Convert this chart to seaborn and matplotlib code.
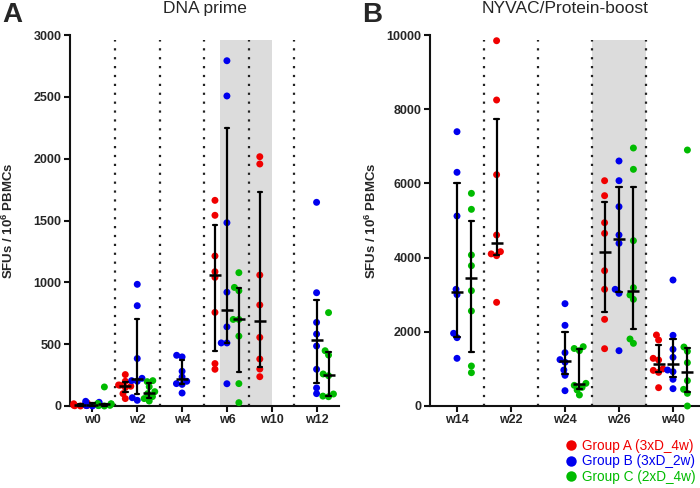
import numpy as np
import pandas as pd
import matplotlib
matplotlib.use("Agg")
import matplotlib.pyplot as plt
from matplotlib.lines import Line2D
import seaborn as sns
import warnings
warnings.filterwarnings("ignore")

# ---------------- data ----------------
groups = ["Group A (3xD_4w)", "Group B (3xD_2w)", "Group C (2xD_4w)"]
colors = ["#F00000", "#0000EE", "#00BB00"]

dna_weeks = ["w0", "w2", "w4", "w6", "w10", "w12"]
dna_a = {
    "w0": [0, 2, 4, 5, 6, 10, 18, 25],
    "w2": [254, 200, 170, 168, 160, 150, 100, 60],
    "w6": [1663, 1542, 1213, 1086, 1040, 757, 343, 297],
    "w10": [2016, 1957, 1059, 817, 555, 380, 299, 237],
}
dna_b = {
    "w0": [0, 3, 5, 8, 12, 20, 30, 38],
    "w2": [984, 811, 384, 224, 205, 200, 67, 46],
    "w4": [410, 397, 281, 235, 200, 181, 175, 105],
    "w6": [2792, 2507, 1482, 920, 640, 510, 510, 180],
    "w12": [1647, 916, 676, 582, 485, 297, 146, 100],
}
dna_c = {
    "w0": [0, 3, 5, 14, 16, 18, 20, 154],
    "w2": [205, 197, 156, 116, 100, 76, 60, 40],
    "w6": [1078, 959, 932, 700, 700, 565, 181, 27],
    "w12": [755, 447, 412, 259, 245, 97, 80, 75],
}

boost_weeks = ["w14", "w22", "w24", "w26", "w40"]
boost_a = {
    "w22": [9846, 8248, 6235, 4609, 4160, 4100, 4052, 2794],
    "w26": [6073, 5669, 4941, 4654, 3647, 3145, 2336, 1545],
    "w40": [1914, 1779, 1285, 1240, 1000, 960, 907, 494],
}
boost_b = {
    "w14": [7394, 6299, 5121, 3145, 3001, 1959, 1842, 1285],
    "w24": [2758, 2174, 1438, 1250, 1180, 970, 827, 413],
    "w26": [6604, 6073, 5373, 4609, 4385, 3145, 3037, 1491],
    "w40": [3396, 1905, 1528, 1312, 970, 925, 720, 467],
}
boost_c = {
    "w14": [5732, 5301, 4070, 3782, 3108, 2561, 1078, 898],
    "w24": [1599, 1550, 1491, 611, 557, 503, 431, 297],
    "w26": [6954, 6379, 4456, 3189, 2992, 2875, 1806, 1689],
    "w40": [6900, 1590, 1474, 1168, 683, 449, 341, 0],
}

dna_ticks = [0, 500, 1000, 1500, 2000, 2500, 3000]
boost_ticks = [0, 2000, 4000, 6000, 8000, 10000]


def to_long(per_group):
    rows = []
    for g, d in zip(groups, per_group):
        for wk, vals in d.items():
            for v in vals:
                rows.append({"week": wk, "group": g, "sfu": v})
    return pd.DataFrame(rows)


def iqr(v):
    return (np.percentile(v, 25, method="weibull"),
            np.percentile(v, 75, method="weibull"))


# ---------------- style ----------------
sns.set_style("ticks")
plt.rcParams["font.family"] = ["Liberation Sans", "DejaVu Sans"]
plt.rcParams["mathtext.fontset"] = "custom"
plt.rcParams["mathtext.bf"] = "Liberation Sans:bold"
plt.rcParams["mathtext.rm"] = "Liberation Sans"

fig = plt.figure(figsize=(7.0, 4.88), dpi=100)
axA = fig.add_axes([70 / 700, 82 / 488, 269 / 700, 371 / 488])
axB = fig.add_axes([430 / 700, 82 / 488, 270 / 700, 371 / 488])

LAYOUT_SIZE = 3.9   # spacing used to place the swarm (points may overlap a bit)
DOT_SIZE = 5.0      # drawn marker diameter (pt)
SLOT = 0.8 / 3      # dodge slot width per group


def draw(ax, df, weeks, ticks, shade, title, ylabel_x):
    n = len(weeks)
    ax.axvspan(shade[0], shade[1], ymin=0, ymax=0.987, color="#DCDCDC", lw=0, zorder=0)
    for i in range(n - 1):
        ax.axvline(i + 0.5, ymin=0, ymax=0.987, color="#222222",
                   ls=(0, (1.0, 3.0)), lw=1.6, zorder=1)
    sns.swarmplot(data=df, x="week", y="sfu", hue="group", order=weeks,
                  hue_order=groups, palette=colors, dodge=True, size=LAYOUT_SIZE,
                  ax=ax, legend=False, zorder=3)
    sns.pointplot(data=df, x="week", y="sfu", hue="group", order=weeks,
                  hue_order=groups, palette=["black"] * 3, estimator="median",
                  errorbar=iqr, dodge=0.5333, linestyle="none", markers="_",
                  markersize=8, markeredgewidth=1.8, capsize=0.1,
                  err_kws={"linewidth": 1.6, "zorder": 5}, legend=False,
                  zorder=6, ax=ax)
    for coll in ax.collections:
        coll.set_clip_on(False)
    for ln in ax.lines:
        ln.set_clip_on(False)
    ax.set_xlim(-0.5, n - 0.5)
    ax.set_ylim(0, ticks[-1])
    ax.set_yticks(ticks)
    ax.set_yticklabels([str(t) for t in ticks], fontweight="bold", fontsize=9)
    ax.set_xticks(range(n))
    ax.set_xticklabels(weeks, fontweight="bold", fontsize=9)
    ax.set_xlabel("")
    ax.set_ylabel("SFUs / 10$^{\\mathbf{6}}$ PBMCs", fontweight="bold", fontsize=9.5)
    ax.yaxis.set_label_coords(ylabel_x, 0.5)
    ax.set_title(title, fontsize=12.5, pad=16)
    for s in ["top", "right"]:
        ax.spines[s].set_visible(False)
    for s in ["left", "bottom"]:
        ax.spines[s].set_linewidth(1.5)
        ax.spines[s].set_color("#111111")
    ax.tick_params(axis="both", direction="out", length=4, width=1.5,
                   color="#111111", pad=2)
    ax.grid(False)


draw(axA, to_long([dna_a, dna_b, dna_c]), dna_weeks, dna_ticks,
     (2.85, 4.0), "DNA prime", -0.2)
draw(axB, to_long([boost_a, boost_b, boost_c]), boost_weeks, boost_ticks,
     (2.5, 3.5), "NYVAC/Protein-boost", -0.19)

fig.text(0.003, 0.995, "A", fontsize=20, fontweight="bold", va="top", ha="left")
fig.text(362 / 700, 0.995, "B", fontsize=20, fontweight="bold", va="top", ha="left")

handles = [Line2D([0], [0], marker="o", ls="none", markersize=7.5,
                  markerfacecolor=c, markeredgewidth=0) for c in colors]
fig.legend(handles, groups, loc="lower right", bbox_to_anchor=(1.0, 0.0),
           frameon=False, labelcolor=colors, fontsize=9.8, handletextpad=0.35,
           labelspacing=0.12, handlelength=1.0, borderaxespad=0.15,
           borderpad=0.15)

# let seaborn lay out the swarms, then freeze positions, keep each swarm
# inside its own dodge slot (crowded clusters overlap) and enlarge the dots
fig.canvas.draw()
for ax in (axA, axB):
    for coll in ax.collections:
        if "draw" in coll.__dict__:
            del coll.draw
        off = np.asarray(coll.get_offsets(), dtype=float)
        if len(off):
            xm = off[:, 0].mean()
            cat = np.round(xm)
            center = cat + np.round((xm - cat) / SLOT) * SLOT
            off[:, 0] = np.clip(off[:, 0], center - 0.15, center + 0.15)
            coll.set_offsets(off)
        coll.set_sizes([DOT_SIZE ** 2])

fig.savefig("out.png", dpi=100)
